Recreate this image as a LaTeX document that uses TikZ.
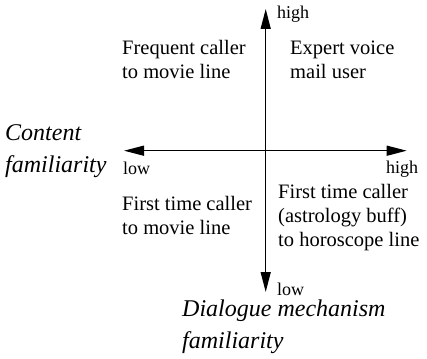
\documentclass[tikz,border=0pt]{standalone}
\usepackage{fontspec}
\setmainfont{Liberation Serif}
\usetikzlibrary{arrows.meta}
\begin{document}
\begin{tikzpicture}[x=1pt,y=-1pt,
  axis/.style={line width=1.3pt,{Triangle[length=20pt,width=10pt]}-{Triangle[length=20pt,width=10pt]}},
  quad/.style={anchor=base west,inner sep=0pt,align=left,font=\fontsize{20.5}{24}\selectfont},
  tick/.style={anchor=base west,inner sep=0pt,font=\fontsize{18}{20}\selectfont},
  title/.style={anchor=base west,inner sep=0pt,align=left,font=\fontsize{24}{32}\selectfont\itshape}]
\useasboundingbox (0,0) rectangle (427,358);
% axis end points
\coordinate (top) at (265.7,9);
\coordinate (bottom) at (265.7,292);
\coordinate (left) at (124,150.7);
\coordinate (right) at (406.7,150.7);
\draw[axis] (bottom) -- (top);
\draw[axis] (left) -- (right);
% end labels
\node[tick] (hy) at (277,19) {high};
\node[tick] (ly) at (277,295) {low};
\node[tick] (lx) at (123,174) {low};
\node[tick] (hx) at (386,173) {high};
% axis titles (placed at the baseline of their last line)
\node[title] (ct) at (5,172) {Content\\familiarity};
\node[title] (dt) at (182,348) {Dialogue mechanism\\familiarity};
% quadrants
\node[quad] (q1) at (122,79) {Frequent caller\\to movie line};
\node[quad] (q2) at (290,79) {Expert voice\\mail user};
\node[quad] (q3) at (122,234) {First time caller\\to movie line};
\node[quad] (q4) at (278,246) {First time caller\\(astrology buff)\\to horoscope line};
\end{tikzpicture}
\end{document}
